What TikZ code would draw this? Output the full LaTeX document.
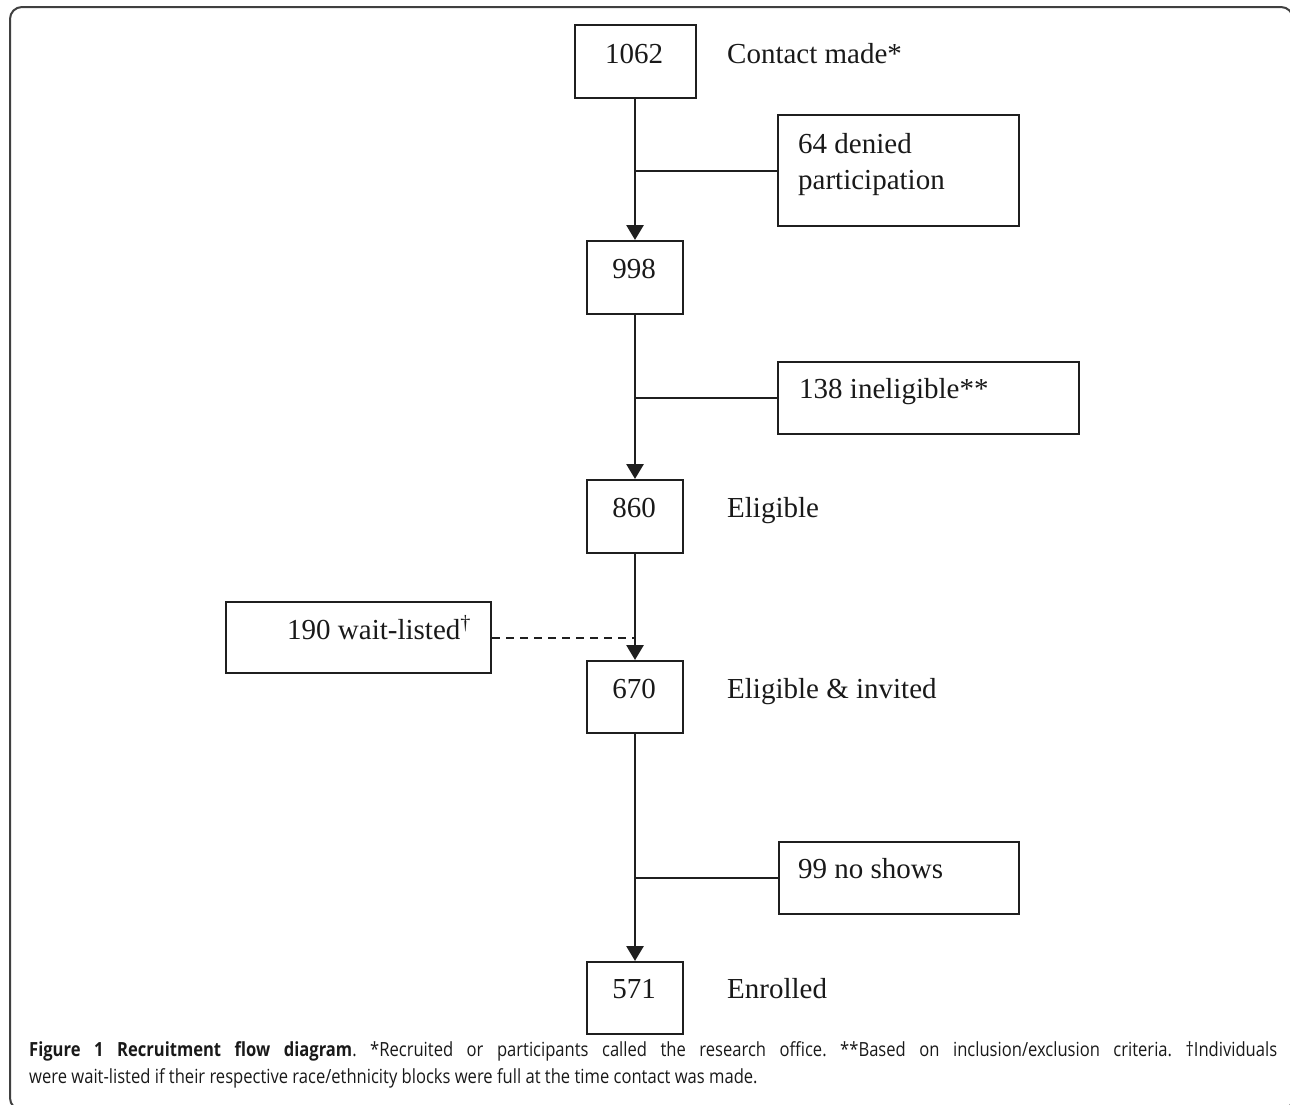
\documentclass[tikz,border=0pt]{standalone}
\usepackage{fontspec}
\setmainfont{Liberation Serif}
\newfontfamily\capfont[FakeStretch=0.85]{Open Sans}
\usetikzlibrary{arrows.meta}
\begin{document}
\begin{tikzpicture}[x=1pt,y=-1pt,
  box/.style={draw=black!88, line width=2pt, inner sep=0pt, anchor=north west},
  lbl/.style={inner sep=0pt, font=\fontsize{29}{34}\selectfont, text=black!90},
  flow/.style={line width=2.8pt, black!88, -{Triangle[width=17pt,length=15pt]}},
  branch/.style={line width=2pt, black!88},
  capstyle/.style={inner sep=0pt, anchor=base west, font=\capfont\fontsize{19.5}{22}\selectfont\frenchspacing, text=black!90}
]
\useasboundingbox (0,0) rectangle (1290,1104);
\begin{scope}
  \clip (0,0) rectangle (1290,1104);
  \draw[line width=2pt, black!75, rounded corners=12pt] (10,7) rectangle (1293,1110);
\end{scope}

% main column boxes
\node[box, minimum width=121pt, minimum height=73pt] (b1062) at (573.5,24) {};
\node[box, minimum width=96pt, minimum height=73pt] (b998) at (586,240) {};
\node[box, minimum width=96pt, minimum height=73pt] (b860) at (586,479) {};
\node[box, minimum width=96pt, minimum height=72pt] (b670) at (586,660) {};
\node[box, minimum width=96pt, minimum height=72pt] (b571) at (586,961) {};

% side boxes
\node[box, minimum width=241pt, minimum height=111pt] (bden) at (777,114) {};
\node[box, minimum width=301pt, minimum height=72pt] (bine) at (777,361) {};
\node[box, minimum width=265pt, minimum height=71pt] (bwait) at (225,601) {};
\node[box, minimum width=240pt, minimum height=72pt] (bno) at (778,841) {};

% labels
\node[lbl, anchor=base] (t1062) at (634,63) {1062};
\node[lbl, anchor=base west] (tcm) at (727,63) {Contact made*};
\node[lbl, anchor=base west] (tden1) at (798,153) {64 denied};
\node[lbl, anchor=base west] (tden2) at (798,189) {participation};
\node[lbl, anchor=base] (t998) at (634,278) {998};
\node[lbl, anchor=base west] (tine) at (799,398) {138 ineligible**};
\node[lbl, anchor=base] (t860) at (634,517) {860};
\node[lbl, anchor=base west] (tel) at (727,517) {Eligible};
\node[lbl, anchor=base west] (twait) at (287,639) {190 wait-listed\textsuperscript{\dag}};
\node[lbl, anchor=base] (t670) at (634,698) {670};
\node[lbl, anchor=base west] (tei) at (727,698) {Eligible \& invited};
\node[lbl, anchor=base west] (tno) at (798,878) {99 no shows};
\node[lbl, anchor=base] (t571) at (634,998) {571};
\node[lbl, anchor=base west] (ten) at (727,998) {Enrolled};

% flow arrows
\draw[flow] (b1062.south) -- (b998.north);
\draw[flow] (b998.south) -- (b860.north);
\draw[flow] (b860.south) -- (b670.north);
\draw[flow] (b670.south) -- (b571.north);

% branches
\draw[branch] (bden.west) -- (bden.west -| b998.north);
\draw[branch] (bine.west) -- (bine.west -| b998.north);
\draw[branch, dash pattern=on 8pt off 6pt] (bwait.east) -- (bwait.east -| b860.south);
\draw[branch] (bno.west) -- (bno.west -| b670.south);

% caption
\node[capstyle] (cap1) at (29,1056) {\hbox to 1248pt{\textbf{Figure 1 Recruitment flow diagram}. *Recruited or participants called the research office. **Based on inclusion/exclusion criteria. \dag Individuals}};
\node[capstyle] (cap2) at (29,1083) {were wait-listed if their respective race/ethnicity blocks were full at the time contact was made.};
\end{tikzpicture}
\end{document}
